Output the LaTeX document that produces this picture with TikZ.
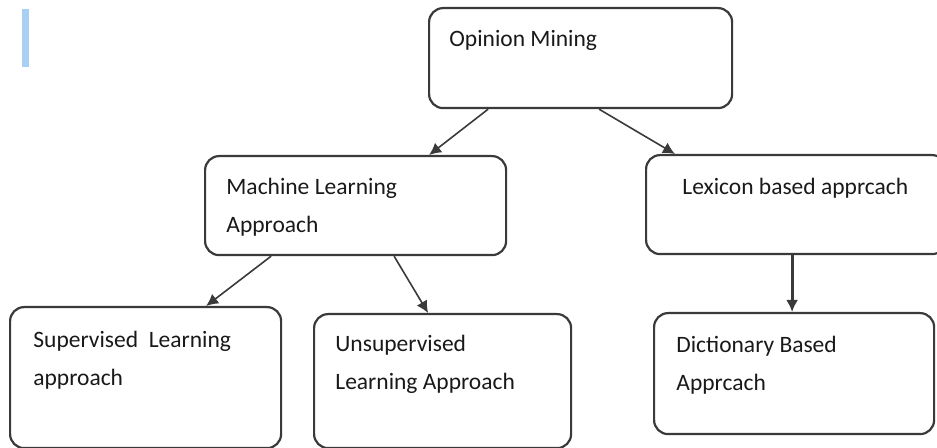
\documentclass[tikz,border=0pt]{standalone}
\usepackage{fontspec}
\setmainfont{Carlito}
\usetikzlibrary{arrows.meta}
\definecolor{BoxGrey}{HTML}{3A3A3A}
\definecolor{BarBlue}{HTML}{A9CFF2}

\begin{document}
\begin{tikzpicture}[x=0.5pt, y=-0.5pt,
    box/.style={draw=BoxGrey, line width=1.1pt, rounded corners=7pt, anchor=north west, inner sep=0pt},
    lbl/.style={anchor=base west, align=left, inner sep=0pt, text=black!90, font=\fontsize{11.75}{18.75}\selectfont},
    link/.style={-{Latex[length=6pt,width=6pt]}, line width=0.8pt, draw=BoxGrey}]
  \useasboundingbox (0,0) rectangle (937,448);
  \clip (0,0) rectangle (937,448);

  % side bar
  \fill[BarBlue] (22,9) rectangle (29,67);

  % boxes
  \node[box, minimum width=151.5pt, minimum height=50pt] (om) at (428,7) {};
  \node[box, minimum width=150.5pt, minimum height=49.5pt] (ml) at (204,155) {};
  \node[box, minimum width=150pt, minimum height=49.5pt] (lex) at (645,154) {};
  \node[box, minimum width=135.5pt, minimum height=70.5pt] (sup) at (9,306) {};
  \node[box, minimum width=128.5pt, minimum height=67pt] (unsup) at (313,313) {};
  \node[box, minimum width=140pt, minimum height=60.5pt] (dict) at (653,312) {};

  % texts (base anchor sits on the last line)
  \node[lbl] (om-text) at ([xshift=10.5pt, yshift=-20pt]om.north west) {Opinion Mining};
  \node[lbl] (ml-text) at ([xshift=11pt, yshift=-38.75pt]ml.north west) {Machine Learning\\Approach};
  \node[lbl] (lex-text) at ([xshift=18.5pt, yshift=-20.5pt]lex.north west) {Lexicon based apprcach};
  \node[lbl] (sup-text) at ([xshift=12pt, yshift=-39.75pt]sup.north west) {Supervised~ Learning\\approach};
  \node[lbl] (unsup-text) at ([xshift=11pt, yshift=-38.25pt]unsup.north west) {Unsupervised\\Learning Approach};
  \node[lbl] (dict-text) at ([xshift=11.5pt, yshift=-39.25pt]dict.north west) {Dictionary Based\\Apprcach};

  % arrows
  \draw[link] ([xshift=-46.25pt]om.south) -- ([xshift=36.75pt]ml.north);
  \draw[link] ([xshift=9.25pt]om.south) -- ([xshift=15pt]lex.north west);
  \draw[link] ([xshift=-42.25pt]ml.south) -- ([xshift=30.25pt]sup.north);
  \draw[link] ([xshift=19.25pt]ml.south) -- ([xshift=-7.25pt]unsup.north);
  \draw[link, line width=1.6pt] ([xshift=-2pt]lex.south) -- ([xshift=-2pt]lex.south |- dict.north);
\end{tikzpicture}
\end{document}
